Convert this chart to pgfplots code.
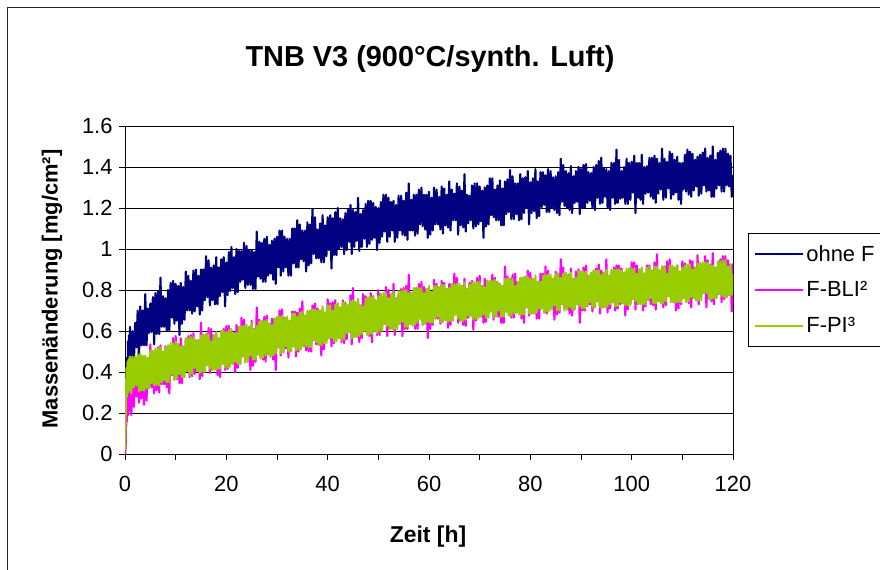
\documentclass[border=0pt]{standalone}
\usepackage{fontspec}
\setmainfont{Liberation Sans}
\usepackage{pgfplots}
\pgfplotsset{compat=1.18}
\definecolor{navyF}{HTML}{000080}
\definecolor{magF}{HTML}{FF00FF}
\definecolor{grnF}{HTML}{99CC00}
\begin{document}
\begin{tikzpicture}
\begin{axis}[
  at={(125bp,116bp)}, anchor=south west,
  scale only axis, width=608bp, height=328bp,
  xmin=0, xmax=120, ymin=0, ymax=1.6,
  xtick={0,20,40,60,80,100,120}, minor xtick={10,30,50,70,90,110},
  ytick={0,0.2,0.4,0.6,0.8,1,1.2,1.4,1.6},
  yticklabels={0,0.2,0.4,0.6,0.8,1,1.2,1.4,1.6},
  /pgf/number format/assume math mode=true,
  tick align=outside, xtick pos=left, ytick pos=left,
  major tick length=6bp, minor tick length=6bp,
  tick style={black, line width=0.8bp},
  ymajorgrids, major grid style={black, line width=0.8bp},
  axis line style={black, line width=0.8bp},
  tick label style={font=\fontsize{22}{22}\selectfont},
  xticklabel style={yshift=-13bp},
  yticklabel style={xshift=-3bp},
  legend style={at={(1.0247,0.674)}, anchor=north west, draw=black, line width=0.8bp,
    fill=white, font=\fontsize{22}{22}\selectfont, inner xsep=6bp, inner ysep=10bp,
    row sep=15bp},
  legend cell align=left,
  legend image code/.code={\draw[#1,line width=2bp] (0bp,0bp) -- (48bp,0bp);},
]
\addplot[navyF, line width=2.1bp, line join=round, no markers] coordinates {
(0,0)(0.1,0.05)(0.2,0.15)(0.3,0.30)(0.4,0.47)(0.5,0.38)(0.6,0.55)(0.7,0.42)(0.8,0.58)(0.9,0.45)
(1,0.62)(1.25,0.40)(1.5,0.60)(1.75,0.44)(2,0.64)(2.25,0.52)(2.5,0.70)(2.75,0.46)(3,0.72)(3.25,0.53)(3.5,0.70)(3.75,0.53)
(4,0.78)(4.25,0.53)(4.5,0.71)(4.75,0.59)(5,0.735)(5.25,0.595)(5.5,0.765)(5.75,0.535)(6,0.785)(6.25,0.585)(6.5,0.795)(6.75,0.585)
(7,0.86)(7.25,0.62)(7.5,0.77)(7.75,0.62)(8,0.76)(8.25,0.60)(8.5,0.80)(8.75,0.60)(9,0.835)(9.25,0.665)(9.5,0.845)(9.75,0.635)
(10,0.83)(10.25,0.65)(10.5,0.82)(10.75,0.58)(11,0.835)(11.25,0.635)(11.5,0.815)(11.75,0.655)(12,0.89)(12.25,0.70)(12.5,0.87)(12.75,0.70)
(13,0.845)(13.25,0.685)(13.5,0.895)(13.75,0.695)(14,0.90)(14.25,0.72)(14.5,0.87)(14.75,0.68)(15,0.90)(15.25,0.70)(15.5,0.90)(15.75,0.75)
(16,0.965)(16.25,0.765)(16.5,0.945)(16.75,0.725)(17,0.91)(17.25,0.75)(17.5,0.92)(17.75,0.73)(18,0.96)(18.25,0.73)(18.5,0.91)(18.75,0.77)
(19,0.95)(19.25,0.79)(19.5,0.96)(19.75,0.72)(20,0.935)(20.25,0.775)(20.5,0.985)(20.75,0.795)(21,1.01)(21.25,0.81)(21.5,0.96)(21.75,0.78)
(22,1.00)(22.25,0.79)(22.5,0.99)(22.75,0.84)(23,0.99)(23.25,0.85)(23.5,1.03)(23.75,0.81)(24,1.015)(24.25,0.825)(24.5,0.995)(24.75,0.825)
(25,0.995)(25.25,0.805)(25.5,0.985)(25.75,0.805)(26,1.085)(26.25,0.865)(26.5,1.035)(26.75,0.855)(27,1.03)(27.25,0.84)(27.5,1.05)(27.75,0.84)
(28,1.06)(28.25,0.87)(28.5,1.02)(28.75,0.88)(29,1.04)(29.25,0.85)(29.5,1.05)(29.75,0.83)(30,1.06)(30.25,0.91)(30.5,1.09)(30.75,0.87)
(31,1.09)(31.25,0.89)(31.5,1.06)(31.75,0.91)(32,1.05)(32.25,0.87)(32.5,1.05)(32.75,0.87)(33,1.10)(33.25,0.93)(33.5,1.10)(33.75,0.91)
(34,1.14)(34.25,0.91)(34.5,1.12)(34.75,0.95)(35,1.09)(35.25,0.94)(35.5,1.09)(35.75,0.89)(36,1.13)(36.25,0.92)(36.5,1.12)(36.75,0.93)
(37,1.195)(37.25,0.975)(37.5,1.155)(37.75,0.955)(38,1.095)(38.25,0.955)(38.5,1.125)(38.75,0.935)(39,1.165)(39.25,0.935)(39.5,1.115)(39.75,0.965)
(40,1.155)(40.25,0.995)(40.5,1.165)(40.75,0.905)(41,1.15)(41.25,0.97)(41.5,1.18)(41.75,0.97)(42,1.20)(42.25,1.00)(42.5,1.15)(42.75,1.01)
(43,1.145)(43.25,0.975)(43.5,1.175)(43.75,0.995)(44,1.195)(44.25,1.035)(44.5,1.215)(44.75,0.975)(45,1.19)(45.25,1.01)(45.5,1.18)(45.75,1.04)
(46,1.25)(46.25,0.99)(46.5,1.17)(46.75,1.01)(47,1.19)(47.25,1.05)(47.5,1.22)(47.75,1.01)(48,1.235)(48.25,1.025)(48.5,1.235)(48.75,1.045)
(49,1.225)(49.25,1.055)(49.5,1.205)(49.75,0.995)(50,1.20)(50.25,1.03)(50.5,1.23)(50.75,1.06)(51,1.265)(51.25,1.085)(51.5,1.265)(51.75,1.035)
(52,1.25)(52.25,1.06)(52.5,1.23)(52.75,1.09)(53,1.235)(53.25,1.035)(53.5,1.215)(53.75,1.055)(54,1.26)(54.25,1.09)(54.5,1.26)(54.75,1.07)
(55,1.235)(55.25,1.065)(55.5,1.275)(55.75,1.045)(56,1.32)(56.25,1.09)(56.5,1.24)(56.75,1.09)(57,1.265)(57.25,1.065)(57.5,1.265)(57.75,1.075)
(58,1.29)(58.25,1.12)(58.5,1.30)(58.75,1.11)(59,1.265)(59.25,1.095)(59.5,1.265)(59.75,1.055)(60,1.28)(60.25,1.07)(60.5,1.25)(60.75,1.09)
(61,1.30)(61.25,1.12)(61.5,1.29)(61.75,1.12)(62,1.255)(62.25,1.095)(62.5,1.305)(62.75,1.075)(63,1.295)(63.25,1.115)(63.5,1.265)(63.75,1.105)
(64,1.33)(64.25,1.09)(64.5,1.29)(64.75,1.14)(65,1.27)(65.25,1.14)(65.5,1.32)(65.75,1.07)(66,1.305)(66.25,1.115)(66.5,1.285)(66.75,1.105)
(67,1.365)(67.25,1.085)(67.5,1.265)(67.75,1.125)(68,1.26)(68.25,1.14)(68.5,1.31)(68.75,1.10)(69,1.32)(69.25,1.11)(69.5,1.32)(69.75,1.12)
(70,1.305)(70.25,1.135)(70.5,1.285)(70.75,1.055)(71,1.30)(71.25,1.11)(71.5,1.31)(71.75,1.12)(72,1.345)(72.25,1.165)(72.5,1.345)(72.75,1.155)
(73,1.29)(73.25,1.14)(73.5,1.31)(73.75,1.14)(74,1.335)(74.25,1.115)(74.5,1.295)(74.75,1.115)(75,1.33)(75.25,1.17)(75.5,1.34)(75.75,1.18)
(76,1.385)(76.25,1.145)(76.5,1.355)(76.75,1.145)(77,1.32)(77.25,1.17)(77.5,1.32)(77.75,1.14)(78,1.365)(78.25,1.145)(78.5,1.345)(78.75,1.175)
(79,1.35)(79.25,1.20)(79.5,1.38)(79.75,1.12)(80,1.325)(80.25,1.175)(80.5,1.345)(80.75,1.185)(81,1.39)(81.25,1.15)(81.5,1.33)(81.75,1.16)
(82,1.375)(82.25,1.205)(82.5,1.375)(82.75,1.215)(83,1.36)(83.25,1.18)(83.5,1.39)(83.75,1.18)(84,1.38)(84.25,1.20)(84.5,1.35)(84.75,1.19)
(85,1.355)(85.25,1.175)(85.5,1.375)(85.75,1.165)(86,1.44)(86.25,1.23)(86.5,1.41)(86.75,1.21)(87,1.38)(87.25,1.20)(87.5,1.37)(87.75,1.19)
(88,1.405)(88.25,1.175)(88.5,1.355)(88.75,1.225)(89,1.38)(89.25,1.23)(89.5,1.40)(89.75,1.17)(90,1.39)(90.25,1.20)(90.5,1.41)(90.75,1.20)
(91,1.415)(91.25,1.225)(91.5,1.375)(91.75,1.235)(92,1.37)(92.25,1.20)(92.5,1.40)(92.75,1.19)(93,1.41)(93.25,1.25)(93.5,1.43)(93.75,1.22)
(94,1.445)(94.25,1.225)(94.5,1.395)(94.75,1.255)(95,1.39)(95.25,1.20)(95.5,1.38)(95.75,1.19)(96,1.42)(96.25,1.25)(96.5,1.42)(96.75,1.22)
(97,1.485)(97.25,1.225)(97.5,1.435)(97.75,1.245)(98,1.38)(98.25,1.25)(98.5,1.40)(98.75,1.22)(99,1.44)(99.25,1.22)(99.5,1.42)(99.75,1.24)
(100,1.425)(100.25,1.275)(100.5,1.455)(100.75,1.175)(101,1.42)(101.25,1.25)(101.5,1.42)(101.75,1.24)(102,1.46)(102.25,1.22)(102.5,1.40)(102.75,1.27)
(103,1.405)(103.25,1.275)(103.5,1.445)(103.75,1.255)(104,1.445)(104.25,1.245)(104.5,1.455)(104.75,1.225)(105,1.44)(105.25,1.27)(105.5,1.42)(105.75,1.29)
(106,1.49)(106.25,1.24)(106.5,1.44)(106.75,1.25)(107,1.425)(107.25,1.295)(107.5,1.475)(107.75,1.245)(108,1.465)(108.25,1.265)(108.5,1.435)(108.75,1.275)
(109,1.45)(109.25,1.24)(109.5,1.42)(109.75,1.22)(110,1.42)(110.25,1.29)(110.5,1.46)(110.75,1.28)(111,1.485)(111.25,1.265)(111.5,1.475)(111.75,1.255)
(112,1.465)(112.25,1.285)(112.5,1.435)(112.75,1.305)(113,1.45)(113.25,1.26)(113.5,1.46)(113.75,1.27)(114,1.47)(114.25,1.31)(114.5,1.49)(114.75,1.28)
(115,1.445)(115.25,1.285)(115.5,1.455)(115.75,1.255)(116,1.50)(116.25,1.255)(116.5,1.435)(116.75,1.295)(117,1.47)(117.25,1.31)(117.5,1.48)(117.75,1.28)
(118,1.49)(118.25,1.28)(118.5,1.49)(118.75,1.31)(119,1.465)(119.25,1.305)(119.5,1.455)(119.75,1.255)(120,1.36)
};
\addlegendentry{ohne F}
\addplot[magF, line width=2.1bp, line join=round, no markers] coordinates {
(0,0)(0.1,0.05)(0.2,0.14)(0.3,0.24)(0.4,0.16)(0.5,0.30)(0.6,0.19)(0.7,0.34)(0.8,0.21)(0.9,0.36)
(1,0.42)(1.25,0.19)(1.5,0.39)(1.75,0.23)(2,0.40)(2.25,0.28)(2.5,0.46)(2.75,0.25)(3,0.46)(3.25,0.27)(3.5,0.44)(3.75,0.24)
(4,0.47)(4.25,0.26)(4.5,0.44)(4.75,0.32)(5,0.535)(5.25,0.325)(5.5,0.495)(5.75,0.295)(6,0.48)(6.25,0.31)(6.5,0.52)(6.75,0.30)
(7,0.53)(7.25,0.34)(7.5,0.49)(7.75,0.34)(8,0.525)(8.25,0.325)(8.5,0.525)(8.75,0.295)(9,0.505)(9.25,0.385)(9.5,0.565)(9.75,0.365)
(10,0.575)(10.25,0.365)(10.5,0.535)(10.75,0.345)(11,0.565)(11.25,0.345)(11.5,0.525)(11.75,0.405)(12,0.555)(12.25,0.405)(12.5,0.575)(12.75,0.375)
(13,0.58)(13.25,0.38)(13.5,0.59)(13.75,0.39)(14,0.555)(14.25,0.405)(14.5,0.555)(14.75,0.365)(15,0.64)(15.25,0.38)(15.5,0.58)(15.75,0.41)
(16,0.585)(16.25,0.435)(16.5,0.615)(16.75,0.395)(17,0.61)(17.25,0.41)(17.5,0.58)(17.75,0.43)(18,0.585)(18.25,0.385)(18.5,0.565)(18.75,0.375)
(19,0.60)(19.25,0.44)(19.5,0.61)(19.75,0.41)(20,0.625)(20.25,0.415)(20.5,0.625)(20.75,0.445)(21,0.58)(21.25,0.44)(21.5,0.59)(21.75,0.40)
(22,0.63)(22.25,0.42)(22.5,0.62)(22.75,0.44)(23,0.665)(23.25,0.475)(23.5,0.655)(23.75,0.475)(24,0.61)(24.25,0.45)(24.5,0.62)(24.75,0.41)
(25,0.65)(25.25,0.43)(25.5,0.61)(25.75,0.45)(26,0.715)(26.25,0.485)(26.5,0.655)(26.75,0.475)(27,0.61)(27.25,0.46)(27.5,0.67)(27.75,0.45)
(28,0.675)(28.25,0.485)(28.5,0.635)(28.75,0.475)(29,0.66)(29.25,0.46)(29.5,0.66)(29.75,0.41)(30,0.66)(30.25,0.52)(30.5,0.70)(30.75,0.48)
(31,0.705)(31.25,0.495)(31.5,0.665)(31.75,0.515)(32,0.65)(32.25,0.47)(32.5,0.65)(32.75,0.50)(33,0.695)(33.25,0.525)(33.5,0.695)(33.75,0.475)
(34,0.69)(34.25,0.50)(34.5,0.71)(34.75,0.54)(35,0.745)(35.25,0.525)(35.5,0.675)(35.75,0.505)(36,0.68)(36.25,0.50)(36.5,0.70)(36.75,0.50)
(37,0.725)(37.25,0.555)(37.5,0.735)(37.75,0.535)(38,0.71)(38.25,0.53)(38.5,0.70)(38.75,0.48)(39,0.69)(39.25,0.51)(39.5,0.69)(39.75,0.55)
(40,0.755)(40.25,0.565)(40.5,0.735)(40.75,0.525)(41,0.74)(41.25,0.54)(41.5,0.75)(41.75,0.58)(42,0.725)(42.25,0.565)(42.5,0.715)(42.75,0.545)
(43,0.75)(43.25,0.54)(43.5,0.74)(43.75,0.56)(44,0.725)(44.25,0.595)(44.5,0.775)(44.75,0.535)(45,0.81)(45.25,0.57)(45.5,0.74)(45.75,0.58)
(46,0.755)(46.25,0.545)(46.5,0.725)(46.75,0.565)(47,0.78)(47.25,0.60)(47.5,0.77)(47.75,0.60)(48,0.755)(48.25,0.575)(48.5,0.785)(48.75,0.545)
(49,0.77)(49.25,0.60)(49.5,0.75)(49.75,0.58)(50,0.80)(50.25,0.58)(50.5,0.78)(50.75,0.62)(51,0.755)(51.25,0.635)(51.5,0.815)(51.75,0.575)
(52,0.80)(52.25,0.61)(52.5,0.78)(52.75,0.61)(53,0.83)(53.25,0.58)(53.5,0.76)(53.75,0.64)(54,0.775)(54.25,0.635)(54.5,0.805)(54.75,0.575)
(55,0.81)(55.25,0.61)(55.5,0.82)(55.75,0.61)(56,0.875)(56.25,0.635)(56.5,0.785)(56.75,0.635)(57,0.77)(57.25,0.61)(57.5,0.81)(57.75,0.61)
(58,0.83)(58.25,0.66)(58.5,0.84)(58.75,0.63)(59,0.815)(59.25,0.635)(59.5,0.805)(59.75,0.565)(60,0.81)(60.25,0.61)(60.5,0.79)(60.75,0.63)
(61,0.85)(61.25,0.66)(61.5,0.83)(61.75,0.66)(62,0.795)(62.25,0.635)(62.5,0.845)(62.75,0.645)(63,0.835)(63.25,0.655)(63.5,0.805)(63.75,0.615)
(64,0.83)(64.25,0.63)(64.5,0.83)(64.75,0.68)(65,0.88)(65.25,0.68)(65.5,0.86)(65.75,0.64)(66,0.81)(66.25,0.65)(66.5,0.82)(66.75,0.63)
(67,0.855)(67.25,0.625)(67.5,0.805)(67.75,0.665)(68,0.835)(68.25,0.675)(68.5,0.845)(68.75,0.605)(69,0.81)(69.25,0.65)(69.5,0.86)(69.75,0.67)
(70,0.87)(70.25,0.67)(70.5,0.82)(70.75,0.64)(71,0.855)(71.25,0.645)(71.5,0.845)(71.75,0.695)(72,0.835)(72.25,0.695)(72.5,0.875)(72.75,0.655)
(73,0.86)(73.25,0.67)(73.5,0.84)(73.75,0.67)(74,0.83)(74.25,0.64)(74.5,0.82)(74.75,0.64)(75,0.915)(75.25,0.695)(75.5,0.865)(75.75,0.685)
(76,0.855)(76.25,0.665)(76.5,0.875)(76.75,0.665)(77,0.88)(77.25,0.69)(77.5,0.84)(77.75,0.70)(78,0.85)(78.25,0.66)(78.5,0.86)(78.75,0.64)
(79,0.865)(79.25,0.715)(79.5,0.895)(79.75,0.675)(80,0.885)(80.25,0.685)(80.5,0.855)(80.75,0.705)(81,0.84)(81.25,0.66)(81.5,0.84)(81.75,0.66)
(82,0.88)(82.25,0.71)(82.5,0.88)(82.75,0.69)(83,0.915)(83.25,0.685)(83.5,0.895)(83.75,0.725)(84,0.855)(84.25,0.705)(84.5,0.855)(84.75,0.655)
(85,0.89)(85.25,0.68)(85.5,0.88)(85.75,0.69)(86,0.95)(86.25,0.73)(86.5,0.91)(86.75,0.71)(87,0.845)(87.25,0.705)(87.5,0.875)(87.75,0.685)
(88,0.905)(88.25,0.675)(88.5,0.855)(88.75,0.705)(89,0.89)(89.25,0.73)(89.5,0.90)(89.75,0.64)(90,0.88)(90.25,0.70)(90.5,0.91)(90.75,0.70)
(91,0.92)(91.25,0.72)(91.5,0.87)(91.75,0.73)(92,0.865)(92.25,0.695)(92.5,0.895)(92.75,0.715)(93,0.905)(93.25,0.745)(93.5,0.925)(93.75,0.685)
(94,0.895)(94.25,0.715)(94.5,0.885)(94.75,0.745)(95,0.95)(95.25,0.69)(95.5,0.87)(95.75,0.71)(96,0.88)(96.25,0.74)(96.5,0.91)(96.75,0.70)
(97,0.92)(97.25,0.71)(97.5,0.92)(97.75,0.73)(98,0.905)(98.25,0.735)(98.5,0.885)(98.75,0.675)(99,0.875)(99.25,0.705)(99.5,0.905)(99.75,0.735)
(100,0.935)(100.25,0.755)(100.5,0.935)(100.75,0.705)(101,0.92)(101.25,0.73)(101.5,0.90)(101.75,0.76)(102,0.90)(102.25,0.70)(102.5,0.88)(102.75,0.72)
(103,0.92)(103.25,0.75)(103.5,0.92)(103.75,0.73)(104,0.895)(104.25,0.725)(104.5,0.935)(104.75,0.705)(105,0.975)(105.25,0.745)(105.5,0.895)(105.75,0.745)
(106,0.915)(106.25,0.715)(106.5,0.915)(106.75,0.725)(107,0.94)(107.25,0.77)(107.5,0.95)(107.75,0.76)(108,0.91)(108.25,0.74)(108.5,0.91)(108.75,0.70)
(109,0.92)(109.25,0.71)(109.5,0.89)(109.75,0.73)(110,0.94)(110.25,0.76)(110.5,0.93)(110.75,0.76)(111,0.895)(111.25,0.735)(111.5,0.945)(111.75,0.715)
(112,0.94)(112.25,0.76)(112.5,0.91)(112.75,0.75)(113,0.97)(113.25,0.73)(113.5,0.93)(113.75,0.78)(114,0.915)(114.25,0.785)(114.5,0.965)(114.75,0.715)
(115,0.945)(115.25,0.755)(115.5,0.925)(115.75,0.745)(116,0.98)(116.25,0.73)(116.5,0.91)(116.75,0.77)(117,0.90)(117.25,0.78)(117.5,0.95)(117.75,0.74)
(118,0.965)(118.25,0.755)(118.5,0.965)(118.75,0.765)(119,0.945)(119.25,0.775)(119.5,0.925)(119.75,0.695)(120,0.93)
};
\addlegendentry{F-BLI²}
\addplot[grnF, line width=2.1bp, line join=round, no markers] coordinates {
(0,0.02)(0.1,0.14)(0.2,0.30)(0.3,0.42)(0.4,0.28)(0.5,0.45)(0.6,0.30)(0.7,0.46)(0.8,0.31)(0.9,0.47)
(1,0.475)(1.25,0.295)(1.5,0.475)(1.75,0.325)(2,0.475)(2.25,0.335)(2.5,0.485)(2.75,0.305)(3,0.49)(3.25,0.31)(3.5,0.48)(3.75,0.31)
(4,0.48)(4.25,0.32)(4.5,0.47)(4.75,0.32)(5,0.505)(5.25,0.345)(5.5,0.505)(5.75,0.335)(6,0.515)(6.25,0.335)(6.5,0.515)(6.75,0.335)
(7,0.52)(7.25,0.35)(7.5,0.50)(7.75,0.36)(8,0.52)(8.25,0.35)(8.5,0.53)(8.75,0.35)(9,0.54)(9.25,0.39)(9.5,0.54)(9.75,0.36)
(10,0.55)(10.25,0.37)(10.5,0.54)(10.75,0.39)(11,0.525)(11.25,0.375)(11.5,0.525)(11.75,0.375)(12,0.565)(12.25,0.405)(12.5,0.565)(12.75,0.385)
(13,0.57)(13.25,0.39)(13.5,0.57)(13.75,0.42)(14,0.555)(14.25,0.405)(14.5,0.555)(14.75,0.395)(15,0.58)(15.25,0.40)(15.5,0.58)(15.75,0.40)
(16,0.585)(16.25,0.435)(16.5,0.585)(16.75,0.415)(17,0.55)(17.25,0.41)(17.5,0.58)(17.75,0.41)(18,0.595)(18.25,0.415)(18.5,0.565)(18.75,0.415)
(19,0.60)(19.25,0.44)(19.5,0.60)(19.75,0.42)(20,0.595)(20.25,0.425)(20.5,0.605)(20.75,0.425)(21,0.61)(21.25,0.44)(21.5,0.59)(21.75,0.45)
(22,0.59)(22.25,0.44)(22.5,0.62)(22.75,0.44)(23,0.625)(23.25,0.475)(23.5,0.625)(23.75,0.445)(24,0.63)(24.25,0.45)(24.5,0.62)(24.75,0.48)
(25,0.64)(25.25,0.46)(25.5,0.61)(25.75,0.46)(26,0.625)(26.25,0.485)(26.5,0.645)(26.75,0.465)(27,0.65)(27.25,0.47)(27.5,0.65)(27.75,0.48)
(28,0.655)(28.25,0.485)(28.5,0.635)(28.75,0.475)(29,0.63)(29.25,0.48)(29.5,0.66)(29.75,0.49)(30,0.67)(30.25,0.52)(30.5,0.67)(30.75,0.49)
(31,0.675)(31.25,0.495)(31.5,0.665)(31.75,0.525)(32,0.67)(32.25,0.50)(32.5,0.65)(32.75,0.50)(33,0.685)(33.25,0.525)(33.5,0.685)(33.75,0.505)
(34,0.67)(34.25,0.51)(34.5,0.69)(34.75,0.51)(35,0.695)(35.25,0.525)(35.5,0.675)(35.75,0.525)(36,0.70)(36.25,0.52)(36.5,0.70)(36.75,0.52)
(37,0.705)(37.25,0.555)(37.5,0.705)(37.75,0.545)(38,0.70)(38.25,0.53)(38.5,0.70)(38.75,0.53)(39,0.72)(39.25,0.54)(39.5,0.69)(39.75,0.54)
(40,0.725)(40.25,0.565)(40.5,0.725)(40.75,0.565)(41,0.70)(41.25,0.55)(41.5,0.73)(41.75,0.55)(42,0.735)(42.25,0.565)(42.5,0.715)(42.75,0.555)
(43,0.74)(43.25,0.56)(43.5,0.74)(43.75,0.59)(44,0.725)(44.25,0.595)(44.5,0.745)(44.75,0.565)(45,0.75)(45.25,0.57)(45.5,0.74)(45.75,0.57)
(46,0.755)(46.25,0.575)(46.5,0.725)(46.75,0.585)(47,0.72)(47.25,0.60)(47.5,0.76)(47.75,0.58)(48,0.765)(48.25,0.585)(48.5,0.765)(48.75,0.585)
(49,0.77)(49.25,0.60)(49.5,0.75)(49.75,0.59)(50,0.77)(50.25,0.60)(50.5,0.78)(50.75,0.60)(51,0.785)(51.25,0.635)(51.5,0.785)(51.75,0.625)
(52,0.76)(52.25,0.61)(52.5,0.78)(52.75,0.61)(53,0.79)(53.25,0.61)(53.5,0.76)(53.75,0.61)(54,0.795)(54.25,0.635)(54.5,0.795)(54.75,0.645)
(55,0.80)(55.25,0.62)(55.5,0.80)(55.75,0.62)(56,0.785)(56.25,0.635)(56.5,0.785)(56.75,0.625)(57,0.81)(57.25,0.63)(57.5,0.81)(57.75,0.64)
(58,0.81)(58.25,0.66)(58.5,0.81)(58.75,0.63)(59,0.785)(59.25,0.635)(59.5,0.805)(59.75,0.645)(60,0.82)(60.25,0.64)(60.5,0.79)(60.75,0.64)
(61,0.82)(61.25,0.66)(61.5,0.82)(61.75,0.67)(62,0.815)(62.25,0.645)(62.5,0.825)(62.75,0.645)(63,0.825)(63.25,0.655)(63.5,0.805)(63.75,0.645)
(64,0.81)(64.25,0.65)(64.5,0.83)(64.75,0.65)(65,0.83)(65.25,0.68)(65.5,0.83)(65.75,0.66)(66,0.83)(66.25,0.65)(66.5,0.82)(66.75,0.65)
(67,0.835)(67.25,0.655)(67.5,0.805)(67.75,0.675)(68,0.825)(68.25,0.675)(68.5,0.835)(68.75,0.655)(69,0.84)(69.25,0.66)(69.5,0.84)(69.75,0.66)
(70,0.84)(70.25,0.67)(70.5,0.82)(70.75,0.68)(71,0.815)(71.25,0.665)(71.5,0.845)(71.75,0.665)(72,0.845)(72.25,0.695)(72.5,0.845)(72.75,0.665)
(73,0.85)(73.25,0.67)(73.5,0.84)(73.75,0.70)(74,0.83)(74.25,0.67)(74.5,0.82)(74.75,0.67)(75,0.855)(75.25,0.695)(75.5,0.855)(75.75,0.675)
(76,0.855)(76.25,0.675)(76.5,0.855)(76.75,0.685)(77,0.82)(77.25,0.69)(77.5,0.84)(77.75,0.68)(78,0.86)(78.25,0.68)(78.5,0.86)(78.75,0.68)
(79,0.865)(79.25,0.715)(79.5,0.865)(79.75,0.685)(80,0.855)(80.25,0.685)(80.5,0.855)(80.75,0.685)(81,0.87)(81.25,0.69)(81.5,0.84)(81.75,0.71)
(82,0.84)(82.25,0.71)(82.5,0.87)(82.75,0.69)(83,0.875)(83.25,0.695)(83.5,0.875)(83.75,0.695)(84,0.875)(84.25,0.705)(84.5,0.855)(84.75,0.725)
(85,0.88)(85.25,0.70)(85.5,0.88)(85.75,0.70)(86,0.86)(86.25,0.73)(86.5,0.88)(86.75,0.70)(87,0.885)(87.25,0.705)(87.5,0.875)(87.75,0.715)
(88,0.885)(88.25,0.705)(88.5,0.855)(88.75,0.705)(89,0.86)(89.25,0.73)(89.5,0.89)(89.75,0.72)(90,0.89)(90.25,0.71)(90.5,0.89)(90.75,0.71)
(91,0.89)(91.25,0.72)(91.5,0.87)(91.75,0.74)(92,0.885)(92.25,0.715)(92.5,0.895)(92.75,0.715)(93,0.895)(93.25,0.745)(93.5,0.895)(93.75,0.715)
(94,0.875)(94.25,0.715)(94.5,0.885)(94.75,0.715)(95,0.90)(95.25,0.72)(95.5,0.87)(95.75,0.73)(96,0.90)(96.25,0.74)(96.5,0.90)(96.75,0.72)
(97,0.90)(97.25,0.72)(97.5,0.90)(97.75,0.74)(98,0.895)(98.25,0.735)(98.5,0.885)(98.75,0.725)(99,0.905)(99.25,0.725)(99.5,0.905)(99.75,0.725)
(100,0.905)(100.25,0.755)(100.5,0.905)(100.75,0.745)(101,0.88)(101.25,0.73)(101.5,0.90)(101.75,0.73)(102,0.91)(102.25,0.73)(102.5,0.88)(102.75,0.73)
(103,0.91)(103.25,0.75)(103.5,0.91)(103.75,0.76)(104,0.895)(104.25,0.735)(104.5,0.915)(104.75,0.735)(105,0.915)(105.25,0.745)(105.5,0.895)(105.75,0.735)
(106,0.915)(106.25,0.735)(106.5,0.915)(106.75,0.745)(107,0.88)(107.25,0.77)(107.5,0.92)(107.75,0.74)(108,0.92)(108.25,0.74)(108.5,0.91)(108.75,0.74)
(109,0.92)(109.25,0.74)(109.5,0.89)(109.75,0.74)(110,0.91)(110.25,0.76)(110.5,0.92)(110.75,0.74)(111,0.925)(111.25,0.745)(111.5,0.925)(111.75,0.765)
(112,0.90)(112.25,0.76)(112.5,0.91)(112.75,0.75)(113,0.93)(113.25,0.75)(113.5,0.93)(113.75,0.75)(114,0.935)(114.25,0.785)(114.5,0.935)(114.75,0.785)
(115,0.935)(115.25,0.755)(115.5,0.925)(115.75,0.755)(116,0.92)(116.25,0.76)(116.5,0.91)(116.75,0.76)(117,0.94)(117.25,0.78)(117.5,0.94)(117.75,0.77)
(118,0.945)(118.25,0.765)(118.5,0.945)(118.75,0.765)(119,0.915)(119.25,0.775)(119.5,0.925)(119.75,0.775)(120,0.88)
};
\addlegendentry{F-PI³}
\end{axis}
\node[font=\bfseries\fontsize{29}{29}\selectfont] at (430bp,511bp) {TNB V3 (900°C/synth. Luft)};
\node[rotate=90, font=\bfseries\fontsize{22}{22}\selectfont] at (52bp,281bp) {Massenänderung [mg/cm²]};
\node[font=\bfseries\fontsize{23}{23}\selectfont] at (428bp,33bp) {Zeit [h]};
\draw[line width=1bp, black!85] (7bp,-20bp) -- (7bp,562bp) -- (900bp,562bp);
\pgfresetboundingbox
\path[use as bounding box] (0bp,0bp) rectangle (880bp,570bp);
\end{tikzpicture}
\end{document}
